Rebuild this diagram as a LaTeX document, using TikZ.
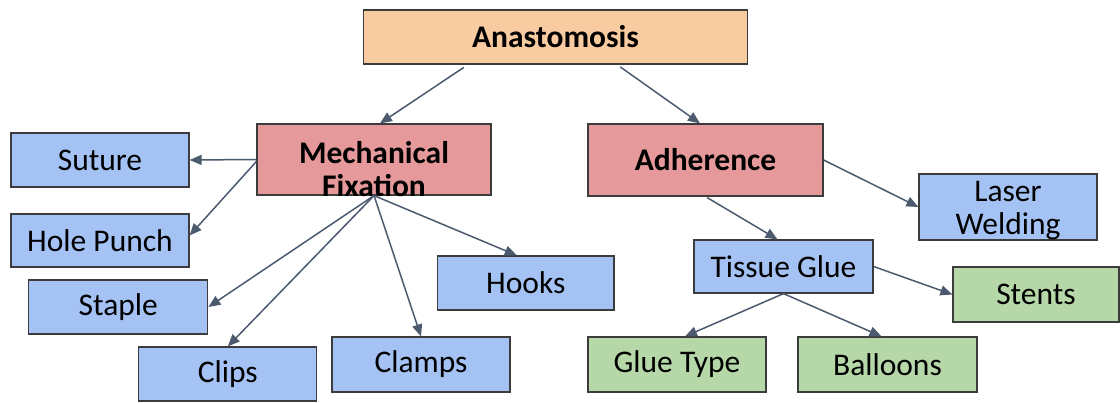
\documentclass[tikz,border=0pt]{standalone}
\usepackage{fontspec}
\setmainfont{Carlito}
\usetikzlibrary{arrows.meta}
\definecolor{peach}{HTML}{F8CBA0}
\definecolor{rosy}{HTML}{E6999A}
\definecolor{skyb}{HTML}{A4C2F4}
\definecolor{sage}{HTML}{B6D7A8}
\definecolor{edge}{HTML}{3C3C3C}
\definecolor{arr}{HTML}{4B5A6E}
\begin{document}
\begin{tikzpicture}[x=1pt,y=-1pt,
  box/.style={draw=edge, line width=1.2pt, inner sep=0pt, align=center,
    font=\fontsize{31.5}{33}\selectfont},
  topbox/.style={box, font=\fontsize{31.5}{33}\selectfont\bfseries},
  conn/.style={draw=arr, line width=1.5pt, -{Triangle[length=12pt,width=10pt]}}]
\useasboundingbox[fill=white] (0,0) rectangle (1120,402);

\node[topbox, fill=peach, minimum width=384pt, minimum height=54pt] (anast) at (555.5,37) {Anastomosis};
\node[topbox, fill=rosy, minimum width=234pt, minimum height=71pt] (mech) at (374,159.5) {};
\node[font=\fontsize{31.5}{33}\selectfont\bfseries, align=center, inner sep=0pt] (mechtext) at (374,169) {Mechanical\\Fixation};
\node[topbox, fill=rosy, minimum width=235pt, minimum height=72pt] (adh) at (705.5,160) {Adherence};

\node[box, fill=skyb, minimum width=178pt, minimum height=54pt] (suture) at (100,160) {Suture};
\node[box, fill=skyb, minimum width=178pt, minimum height=53pt] (hole) at (100,240.5) {Hole Punch};
\node[box, fill=skyb, minimum width=179pt, minimum height=54pt] (staple) at (118.3,307) {Staple};
\node[box, fill=skyb, minimum width=178pt, minimum height=54pt] (clips) at (227.8,374) {Clips};
\node[box, fill=skyb, minimum width=178pt, minimum height=55pt] (clamps) at (421,364.5) {Clamps};
\node[box, fill=skyb, minimum width=176.5pt, minimum height=54pt] (hooks) at (525.8,283) {Hooks};
\node[box, fill=skyb, minimum width=178pt, minimum height=66pt] (laser) at (1008,207) {\rule{0pt}{27pt}Laser\\Welding};
\node[box, fill=skyb, minimum width=179pt, minimum height=53pt] (tglue) at (783.5,266.5) {Tissue Glue};
\node[box, fill=sage, minimum width=166pt, minimum height=55pt] (stents) at (1036,294.5) {Stents};
\node[box, fill=sage, minimum width=178pt, minimum height=55pt] (gtype) at (677,364.5) {Glue Type};
\node[box, fill=sage, minimum width=179pt, minimum height=55pt] (balloons) at (887.5,364.5) {Balloons};

\draw[conn, shorten <=5pt] ([xshift=-87.5pt]anast.south) -- ([xshift=6pt]mech.north);
\draw[conn, shorten <=4pt] ([xshift=61.5pt]anast.south) -- ([xshift=-5.5pt]adh.north);
\draw[conn] (mech.west) -- (suture.east);
\draw[conn] ([yshift=-2pt]mech.west) -- ([yshift=5pt]hole.east);
\draw[conn] (mech.south) -- (staple.east);
\draw[conn] (mech.south) -- (clips.north);
\draw[conn] (mech.south) -- (clamps.north);
\draw[conn] (mech.south) -- ([xshift=-9pt]hooks.north);
\draw[conn] (adh.east) -- (laser.west);
\draw[conn, shorten <=2pt] (adh.south) -- ([xshift=-6pt]tglue.north);
\draw[conn] (tglue.east) -- (stents.west);
\draw[conn] (tglue.south) -- ([xshift=8pt]gtype.north);
\draw[conn] (tglue.south) -- ([xshift=-6pt]balloons.north);
\end{tikzpicture}
\end{document}
